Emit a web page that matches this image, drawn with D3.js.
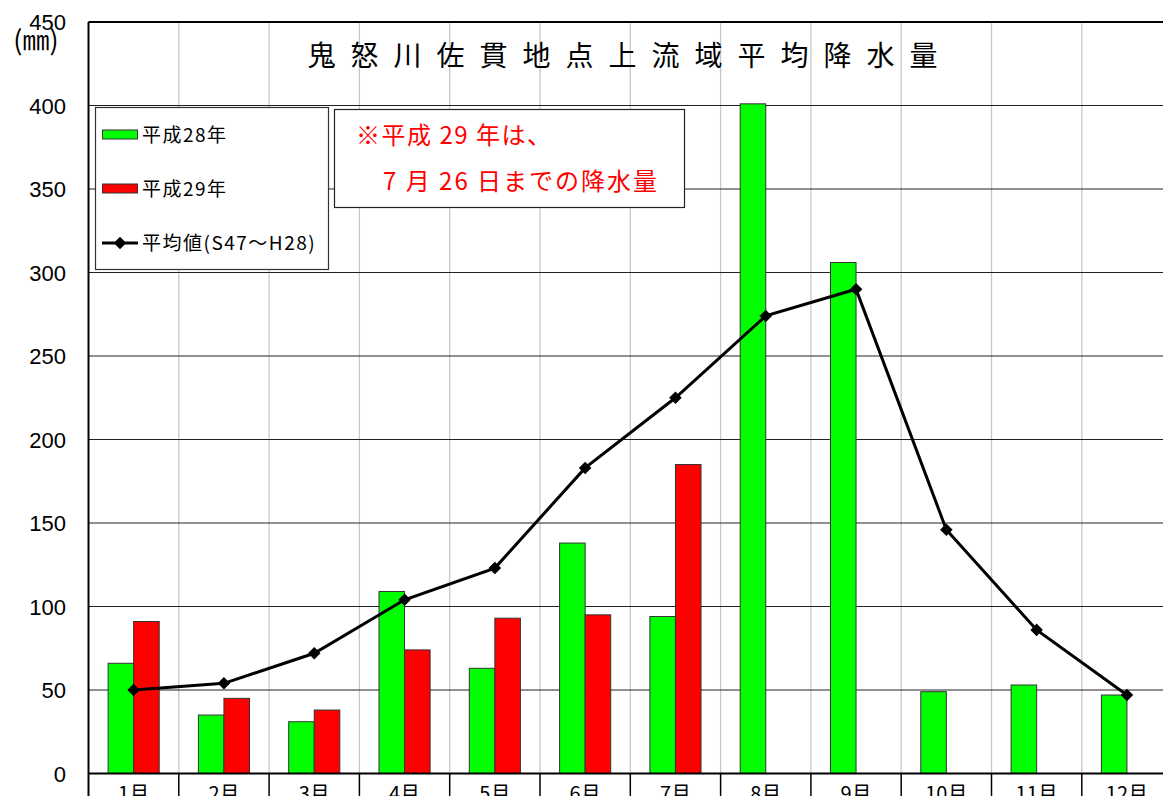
<!DOCTYPE html>
<html><head><meta charset="utf-8">
<script src="https://cdn.jsdelivr.net/npm/d3@7"></script>
<style>body{margin:0;background:#fff;} svg{display:block;}</style>
</head><body>
<svg id="c" width="1163" height="796"></svg>
<script>
const months = ["1月","2月","3月","4月","5月","6月","7月","8月","9月","10月","11月","12月"];
const h28 = [66,35,31,109,63,138,94,401,306,49,53,47];
const h29 = [91,45,38,74,93,95,185,null,null,null,null,null];
const avg = [50,54,72,104,123,183,225,274,290,146,86,47];
const yTicks = [0,50,100,150,200,250,300,350,400,450];

const svg = d3.select("#c");
const x0 = 88.5, step = 90.3;
const x = d3.scaleBand().domain(months).range([x0, x0 + step*12]).padding(0);
const y = d3.scaleLinear().domain([0,450]).range([773.5, 22]);
const bw = x.bandwidth();
const jp = "'Noto Sans CJK JP','Noto Sans',sans-serif";
const num = "'Liberation Sans',Arial,sans-serif";

// vertical grid
svg.append("g").selectAll("line").data(months.slice(1)).join("line")
  .attr("x1", d=>x(d)).attr("x2", d=>x(d)).attr("y1", y(450)).attr("y2", y(0))
  .attr("stroke", "#c8c8c8").attr("stroke-width", 1.3);
// horizontal grid
svg.append("g").selectAll("line").data(yTicks.filter(v=>v>0 && v<450)).join("line")
  .attr("x1", x0).attr("x2", 1163).attr("y1", d=>y(d)).attr("y2", d=>y(d))
  .attr("stroke", "#222").attr("stroke-width", 1);

// bars
svg.append("g").selectAll("rect").data(months.map((m,i)=>({m,v:h28[i]}))).join("rect")
  .attr("x", d=>x(d.m)+bw*0.217).attr("width", bw*0.283)
  .attr("y", d=>y(d.v)).attr("height", d=>y(0)-y(d.v))
  .attr("fill", "#00ff00").attr("stroke", "#333").attr("stroke-width", 1);
svg.append("g").selectAll("rect").data(months.map((m,i)=>({m,v:h29[i]})).filter(d=>d.v!=null)).join("rect")
  .attr("x", d=>x(d.m)+bw*0.5).attr("width", bw*0.283)
  .attr("y", d=>y(d.v)).attr("height", d=>y(0)-y(d.v))
  .attr("fill", "#ff0000").attr("stroke", "#333").attr("stroke-width", 1);

// average line
const line = d3.line().x((d,i)=>x(months[i])+bw/2).y(d=>y(d));
svg.append("path").datum(avg).attr("d", line).attr("fill","none")
  .attr("stroke","#000").attr("stroke-width",3);
const diamond = d3.symbol().type(d3.symbolDiamond2).size(100);
svg.append("g").selectAll("path").data(avg).join("path")
  .attr("transform",(d,i)=>`translate(${x(months[i])+bw/2},${y(d)})`)
  .attr("d", diamond()).attr("fill","#000");

// frame
svg.append("line").attr("x1",x0).attr("x2",1163).attr("y1",y(450)).attr("y2",y(450)).attr("stroke","#000").attr("stroke-width",2);
svg.append("line").attr("x1",x0).attr("x2",x0).attr("y1",y(450)).attr("y2",796).attr("stroke","#000").attr("stroke-width",2);
svg.append("line").attr("x1",x0).attr("x2",1163).attr("y1",y(0)).attr("y2",y(0)).attr("stroke","#000").attr("stroke-width",2);
// category separators below axis
svg.append("g").selectAll("line").data(months.slice(1)).join("line")
  .attr("x1", d=>x(d)).attr("x2", d=>x(d)).attr("y1", y(0)).attr("y2", 796)
  .attr("stroke", "#000").attr("stroke-width", 1.5);

// x labels
svg.append("g").selectAll("text").data(months).join("text")
  .attr("x", d=>x(d)+bw/2).attr("y", 801).attr("text-anchor","middle")
  .attr("font-family", jp).attr("font-size", 20).text(d=>d);

// y labels
svg.append("g").selectAll("text").data(yTicks).join("text")
  .attr("x", 66).attr("y", d=>y(d)+8).attr("text-anchor","end")
  .attr("font-family", num).attr("font-size", 22).text(d=>d);
svg.append("text").attr("x", 36).attr("y", 50).attr("text-anchor","middle")
  .attr("font-family", jp).attr("font-size", 27).text("(㎜)");

// title
svg.append("text").attr("x", 630).attr("y", 66).attr("text-anchor","middle")
  .attr("font-family", jp).attr("font-size", 28).attr("letter-spacing", 15)
  .text("鬼怒川佐貫地点上流域平均降水量");

// legend
const lg = svg.append("g");
lg.append("rect").attr("x",95.5).attr("y",107.5).attr("width",233).attr("height",162)
  .attr("fill","#fff").attr("stroke","#333").attr("stroke-width",1.2);
const legendItems = [
  {t:"平成28年", type:"bar", c:"#00ff00", y:135},
  {t:"平成29年", type:"bar", c:"#ff0000", y:189},
  {t:"平均値(S47～H28)", type:"line", c:"#000", y:243}
];
legendItems.forEach(d=>{
  if(d.type==="bar"){
    lg.append("rect").attr("x",102.5).attr("y",d.y-5).attr("width",35).attr("height",9)
      .attr("fill",d.c).attr("stroke","#333").attr("stroke-width",1);
  } else {
    lg.append("line").attr("x1",102).attr("x2",138).attr("y1",d.y).attr("y2",d.y)
      .attr("stroke","#000").attr("stroke-width",3);
    lg.append("path").attr("transform",`translate(120,${d.y})`).attr("d",diamond()).attr("fill","#000");
  }
  lg.append("text").attr("x",142).attr("y",d.y+7).attr("font-family",jp)
    .attr("font-size",19).attr("letter-spacing",1.5).text(d.t);
});

// annotation
const an = svg.append("g");
an.append("rect").attr("x",334.5).attr("y",109.5).attr("width",350).attr("height",98)
  .attr("fill","#fff").attr("stroke","#222").attr("stroke-width",1.2);
an.append("text").attr("x",356).attr("y",144).attr("font-family",jp).attr("font-size",24)
  .attr("letter-spacing",1.5).attr("fill","#ff0000").text("※平成 29 年は、");
an.append("text").attr("x",383).attr("y",190).attr("font-family",jp).attr("font-size",24)
  .attr("letter-spacing",2).attr("fill","#ff0000").text("7 月 26 日までの降水量");
</script>
</body></html>
